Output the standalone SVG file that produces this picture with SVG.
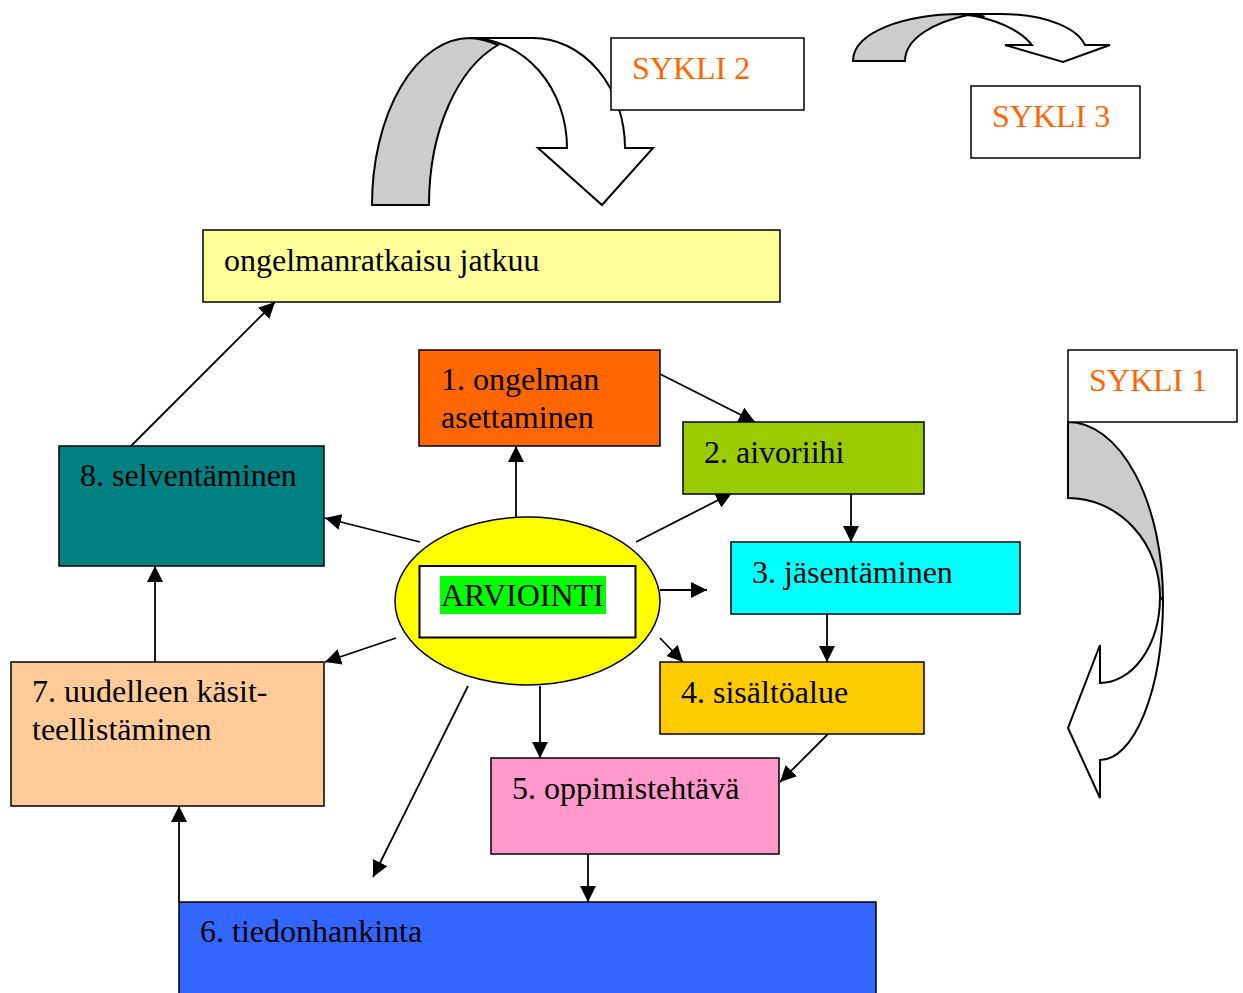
<svg xmlns="http://www.w3.org/2000/svg" width="1243" height="993" viewBox="0 0 1243 993">
<style>
.box{stroke:#000;stroke-width:1.5}
.t{font-family:"Liberation Serif","Times New Roman",serif;font-size:32px;fill:#000}
.s{font-family:"Liberation Serif","Times New Roman",serif;font-size:32px;fill:#FF6600}
.c{stroke:#000;stroke-width:1.8;fill:none;marker-end:url(#ah)}
.cn{stroke:#000;stroke-width:1.8;fill:none}
.ar{stroke:#000;stroke-width:2;stroke-linejoin:miter}
</style>
<defs>
<marker id="ah" markerUnits="userSpaceOnUse" markerWidth="16" markerHeight="16" refX="15" refY="7.5" orient="auto" viewBox="0 0 15 15">
<path d="M0,0 L15,7.5 L0,15 z" fill="#000"/>
</marker>
</defs>

<g id="curved-arrows">
<g id="arrow-sykli2">
<path class="ar" fill="#fff" d="M470,38 L533,38 A92,110 0 0 1 625,148 L653,148 L602,205 L538,148 L567,148 A97,110 0 0 0 470,38 Z"/>
<path class="ar" fill="#CCCCCC" d="M372,205 A98,167 0 0 1 470,38 A97,110 0 0 1 498,45 C458,68 429,130 429,205 Z"/>
</g>
<g id="arrow-sykli3">
<path class="ar" fill="#fff" d="M962,14 L1000,14 C1050,14 1078,30 1085,45 L1110,45 L1063,62 L1005,45 L1032,45 C1020,30 995,18 962,14 Z"/>
<path class="ar" fill="#CCCCCC" d="M853,61 C853,32 905,14 962,14 C995,18 985,16 968,15 C935,22 905,38 905,61 Z"/>
</g>
<g id="arrow-sykli1">
<path class="ar" fill="#fff" d="M1163,600 A63,160 0 0 1 1100,760 L1100,798 L1068,728 L1100,645 L1100,683 A60,86 0 0 0 1160,597 Z"/>
<path class="ar" fill="#CCCCCC" d="M1068,422 A95,178 0 0 1 1163,600 L1160,597 A92,99 0 0 0 1068,498 Z"/>
</g>
</g>

<g id="connectors">
<line class="c" x1="660" y1="374" x2="755" y2="422"/>
<line class="c" x1="636" y1="542" x2="732" y2="493"/>
<line class="c" x1="851" y1="494" x2="851" y2="542"/>
<line class="c" x1="660" y1="590" x2="707" y2="590"/>
<line class="c" x1="660" y1="638" x2="683" y2="662"/>
<line class="c" x1="827" y1="614" x2="827" y2="662"/>
<line class="c" x1="828" y1="734" x2="780" y2="782"/>
<line class="c" x1="540" y1="686" x2="540" y2="758"/>
<line class="c" x1="588" y1="854" x2="588" y2="902"/>
<line class="c" x1="468" y1="686" x2="373" y2="877"/>
<line class="c" x1="179" y1="902" x2="179" y2="806"/>
<line class="c" x1="396" y1="638" x2="325" y2="662"/>
<line class="c" x1="155" y1="662" x2="155" y2="566"/>
<line class="c" x1="420" y1="542" x2="325" y2="518"/>
<line class="c" x1="516" y1="518" x2="516" y2="446"/>
<line class="c" x1="131" y1="446" x2="275" y2="302"/>
</g>

<g id="sykli2">
<rect class="box" x="611" y="38" width="193" height="72" fill="#fff"/>
<text class="s" x="632" y="79">SYKLI 2</text>
</g>
<g id="sykli3">
<rect class="box" x="971" y="86" width="169" height="72" fill="#fff"/>
<text class="s" x="992" y="127">SYKLI 3</text>
</g>
<g id="sykli1">
<rect class="box" x="1068" y="350" width="169" height="72" fill="#fff"/>
<text class="s" x="1089" y="391">SYKLI 1</text>
</g>

<g id="jatkuu">
<rect class="box" x="203" y="230" width="577" height="72" fill="#FFFF99"/>
<text class="t" x="224" y="271">ongelmanratkaisu jatkuu</text>
</g>
<g id="n1">
<rect class="box" x="419" y="350" width="241" height="96" fill="#FF6600"/>
<text class="t" x="441" y="390">1. ongelman</text>
<text class="t" x="441" y="428">asettaminen</text>
</g>
<g id="n2">
<rect class="box" x="683" y="422" width="241" height="72" fill="#99CC00"/>
<text class="t" x="704" y="463">2. aivoriihi</text>
</g>
<g id="n3">
<rect class="box" x="731" y="542" width="289" height="72" fill="#00FFFF"/>
<text class="t" x="752" y="583">3. jäsentäminen</text>
</g>
<g id="n4">
<rect class="box" x="660" y="662" width="264" height="72" fill="#FFCC00"/>
<text class="t" x="681" y="703">4. sisältöalue</text>
</g>
<g id="n5">
<rect class="box" x="491" y="758" width="288" height="96" fill="#FF99CC"/>
<text class="t" x="512" y="799">5. oppimistehtävä</text>
</g>
<g id="n6">
<rect class="box" x="179" y="902" width="697" height="100" fill="#3366FF"/>
<text class="t" x="200" y="942">6. tiedonhankinta</text>
</g>
<g id="n7">
<rect class="box" x="11" y="662" width="313" height="144" fill="#FFCC99"/>
<text class="t" x="32" y="702">7. uudelleen käsit-</text>
<text class="t" x="32" y="740">teellistäminen</text>
</g>
<g id="n8">
<rect class="box" x="59" y="446" width="265" height="120" fill="#008080"/>
<text class="t" x="80" y="486">8. selventäminen</text>
</g>
<g id="arviointi">
<ellipse cx="527.5" cy="601" rx="132.5" ry="84" fill="#FFFF00" stroke="#000" stroke-width="1.5"/>
<rect x="419.5" y="566" width="216" height="71.5" fill="#fff" stroke="#000" stroke-width="2"/>
<rect x="440" y="576" width="166" height="38" fill="#00FF00"/>
<text class="t" x="441" y="606">ARVIOINTI</text>
</g>
</svg>
